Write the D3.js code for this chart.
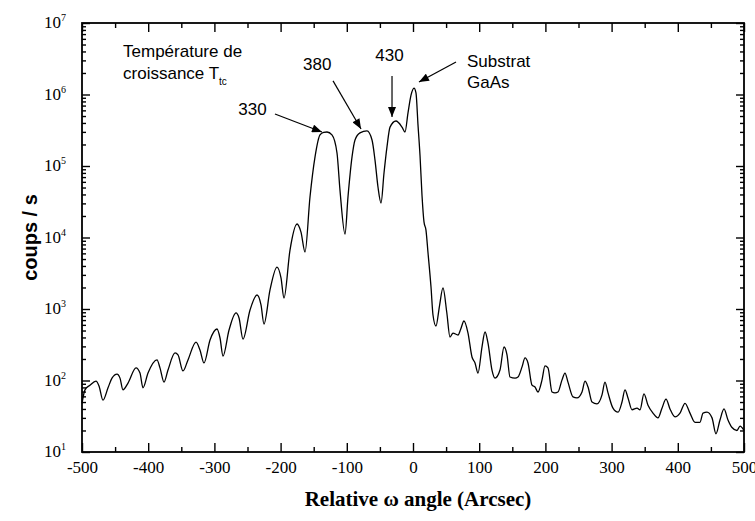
<!DOCTYPE html>
<html>
<head>
<meta charset="utf-8">
<script src="https://cdn.jsdelivr.net/npm/d3@7"></script>
<style>
body{margin:0;background:#fff;}
svg{display:block;}
</style>
</head>
<body>
<div id="chart"></div>
<script>
// rocking curve (angle in arcsec, counts/s)
const angle = [
  -500, -495.5, -488, -478.9, -474.3, -468.3, -460.7, -454.7, -447.1, -442.6, -438.1, -430.5,
  -418.4, -412.4, -407.9, -400.3, -386.7, -382.2, -376.1, -370.1, -359.5, -355, -347.4, -339.9,
  -327.8, -321.8, -315.7, -306.6, -296.1, -291.5, -287, -277.9, -267.4, -262.8, -256.8, -246.2,
  -235.6, -229.6, -225.1, -216, -205.4, -199.4, -194.9, -185.8, -175.2, -169.2, -163.1,
  -155.6, -148, -140.5, -135, -129.9, -122.4, -114.8, -110.3, -102.7,
  -98.2, -92.1, -87.6, -80.1, -69.5, -61.9, -57.4, -52.9, -48.3,
  -43.8, -39.3, -34.7, -25.7, -16.6, -12.1, -7.6, -3, 1.5, 4.5, 7.6, 10.6, 13.6, 16.6, 19.6,
  22.7, 27.2, 30.2, 34.7, 40, 45.3, 51, 55.9, 60.4, 68, 72, 77, 83.1, 89.1, 93.7, 98.2,
  104.2, 108.8, 113.3, 119.3, 123.9, 131.4, 137.5, 142, 146.5, 154.1, 158.6, 164.7, 169.2, 173.7,
  179.8, 184.3, 188.8, 194.9, 199.4, 203.9, 210, 214.5, 219, 225.1, 229.6, 234.1, 241.7, 247.7,
  255.3, 259.8, 264.4, 270.4, 277.9, 285.5, 290, 294.6, 302.1, 309.7, 315.7, 320.2, 324.8, 330.8,
  338.4, 342.9, 348.9, 355, 362.5, 370.1, 376.1, 382.2, 388.2, 395.8, 403.3, 410.9, 418.4, 426,
  433.5, 438.1, 444.1, 451.7, 457.7, 463.7, 469.8, 475.8, 481.9, 489.4, 494, 500
];
const counts = [
  48, 74, 86, 98, 84, 53, 79, 108, 123, 108, 74, 92,
  150, 127, 79, 127, 194, 150, 95, 140, 243, 228, 136, 194,
  345, 267, 176, 368, 525, 393, 220, 508, 880, 748, 380, 968,
  1570, 1140, 617, 1845, 3860, 2720, 1425, 6680, 15450, 11900, 6270,
  36800, 134000, 272000, 295000, 299000, 272000, 152000, 46000, 11200,
  37000, 134000, 231000, 290000, 309000, 231000, 121000, 50800, 30400,
  79800, 185000, 350000, 426000, 350000, 299000, 550000, 980000, 1230000, 1050000, 370000, 140000, 39000, 16500, 12700,
  6070, 2030, 824, 578, 1100, 1970, 900, 405, 461, 433, 520, 679, 461, 213, 176, 127,
  294, 477, 334, 140, 108, 140, 294, 228, 112, 108, 112, 155, 207, 176,
  86, 81, 69, 102, 160, 150, 69, 67, 69, 102, 127, 95, 59, 57,
  69, 98, 81, 50, 47, 63, 95, 67, 41, 36, 50, 74, 57, 39,
  41, 39, 65, 45, 35, 30, 41, 55, 40, 31, 35, 48, 35, 26,
  26, 35, 36, 30, 18, 28, 40, 28, 22, 20, 23, 20
];

const xTicks = [-500, -400, -300, -200, -100, 0, 100, 200, 300, 400, 500];
const xMinor = [-450, -350, -250, -150, -50, 50, 150, 250, 350, 450];
const yDecades = [1e1, 1e2, 1e3, 1e4, 1e5, 1e6, 1e7];

// annotations (anchored in data units)
const noteText = ["Température de", "croissance T", "330", "380", "430", "Substrat", "GaAs"];
const noteAngle = [-438, -438, -264, -166, -57, 81.6, 81.6];
const noteCounts = [3.34e6, 1.65e6, 5.16e5, 2.2e6, 2.94e6, 2.43e6, 1.23e6];
const arrowFrom = [[-208.5, 5.33e5], [-120.8, 1.55e6], [-31.7, 1.82e6], [65, 2.85e6]];
const arrowTo = [[-137.5, 2.99e5], [-78.5, 3.29e5], [-31.7, 4.84e5], [9, 1.5e6]];

let width = 755, height = 521;
let mLeft = 82, mRight = 744, mTop = 23, mBottom = 452;

let svg = d3.select("#chart").append("svg")
    .attr("width", width)
    .attr("height", height);

let xScale = d3.scaleLinear().domain([-500, 500]).range([mLeft, mRight]);
let yScale = d3.scaleLog().domain([10, 1e7]).range([mBottom, mTop]);

let yMinor = [];
yDecades.slice(0, -1).forEach(d => {
    for (let k = 2; k <= 9; k++) yMinor.push(d * k);
});

const serif = "'Liberation Serif','Times New Roman',serif";
const sans = "'Liberation Sans',Arial,sans-serif";

function styleAxis(g){
    g.select(".domain").remove();
    g.selectAll("line").attr("stroke", "#000").attr("stroke-width", 1.4);
}

// bottom
svg.append("g").attr("transform", "translate(0," + mBottom + ")")
    .call(d3.axisBottom(xScale).tickValues(xMinor).tickSize(-5).tickFormat(""))
    .call(styleAxis);
svg.append("g").attr("transform", "translate(0," + mBottom + ")")
    .call(d3.axisBottom(xScale).tickValues(xTicks).tickSize(-9).tickPadding(9).tickFormat(d => String(d)))
    .call(styleAxis)
    .selectAll("text")
    .style("font-family", serif).style("font-size", "17px").attr("fill", "#000");
// top
svg.append("g").attr("transform", "translate(0," + mTop + ")")
    .call(d3.axisTop(xScale).tickValues(xMinor).tickSize(-5).tickFormat(""))
    .call(styleAxis);
svg.append("g").attr("transform", "translate(0," + mTop + ")")
    .call(d3.axisTop(xScale).tickValues(xTicks).tickSize(-9).tickFormat(""))
    .call(styleAxis);
// left
svg.append("g").attr("transform", "translate(" + mLeft + ",0)")
    .call(d3.axisLeft(yScale).tickValues(yMinor).tickSize(-4).tickFormat(""))
    .call(styleAxis);
svg.append("g").attr("transform", "translate(" + mLeft + ",0)")
    .call(d3.axisLeft(yScale).tickValues(yDecades).tickSize(-8).tickFormat(""))
    .call(styleAxis);
// right
svg.append("g").attr("transform", "translate(" + mRight + ",0)")
    .call(d3.axisRight(yScale).tickValues(yMinor).tickSize(-4).tickFormat(""))
    .call(styleAxis);
svg.append("g").attr("transform", "translate(" + mRight + ",0)")
    .call(d3.axisRight(yScale).tickValues(yDecades).tickSize(-8).tickFormat(""))
    .call(styleAxis);

// y labels 10^n
let yLab = svg.append("g").selectAll("text")
    .data(yDecades)
    .enter().append("text")
    .attr("x", mLeft - 16)
    .attr("y", d => yScale(d) + 5)
    .attr("text-anchor", "end")
    .style("font-family", serif)
    .style("font-size", "17px");
yLab.append("tspan").text("10");
yLab.append("tspan").attr("dy", -7).style("font-size", "10px").text(d => Math.round(Math.log10(d)));

// frame
svg.append("rect")
    .attr("x", mLeft).attr("y", mTop)
    .attr("width", mRight - mLeft).attr("height", mBottom - mTop)
    .attr("fill", "none").attr("stroke", "#000").attr("stroke-width", 1.8);

// curve
let pts = angle.map((a, i) => [a, counts[i]]);
let lineGen = d3.line()
    .x(d => xScale(d[0]))
    .y(d => yScale(d[1]))
    .curve(d3.curveMonotoneX);
svg.append("path")
    .datum(pts)
    .attr("d", lineGen)
    .attr("fill", "none")
    .attr("stroke", "#000")
    .attr("stroke-width", 1.3);

// axis titles
svg.append("text")
    .attr("x", (mLeft + mRight) / 2 + 5).attr("y", 506)
    .attr("text-anchor", "middle")
    .style("font-family", serif).style("font-size", "21px").style("font-weight", "bold")
    .text("Relative ω angle (Arcsec)");
svg.append("text")
    .attr("transform", "translate(37," + ((mTop + mBottom) / 2) + ") rotate(-90)")
    .attr("text-anchor", "middle")
    .style("font-family", sans).style("font-size", "20px").style("font-weight", "bold")
    .text("coups / s");

// annotations
svg.append("defs").append("marker")
    .attr("id", "head")
    .attr("viewBox", "0 -4 10 8")
    .attr("refX", 10).attr("refY", 0)
    .attr("markerUnits", "userSpaceOnUse")
    .attr("markerWidth", 11).attr("markerHeight", 8)
    .attr("orient", "auto")
    .append("path").attr("d", "M0,-4L10,0L0,4Z").attr("fill", "#000");

let notes = svg.append("g").selectAll("text")
    .data(noteText)
    .enter().append("text")
    .attr("x", (d, i) => xScale(noteAngle[i]))
    .attr("y", (d, i) => yScale(noteCounts[i]))
    .style("font-family", sans).style("font-size", "17px")
    .text(d => d);
notes.filter(d => d == "croissance T")
    .append("tspan").attr("dy", 6).style("font-size", "10px").text("tc");

svg.append("g").selectAll("line")
    .data(arrowFrom)
    .enter().append("line")
    .attr("x1", d => xScale(d[0])).attr("y1", d => yScale(d[1]))
    .attr("x2", (d, i) => xScale(arrowTo[i][0])).attr("y2", (d, i) => yScale(arrowTo[i][1]))
    .attr("stroke", "#000").attr("stroke-width", 1.2)
    .attr("marker-end", "url(#head)");
</script>
</body>
</html>
